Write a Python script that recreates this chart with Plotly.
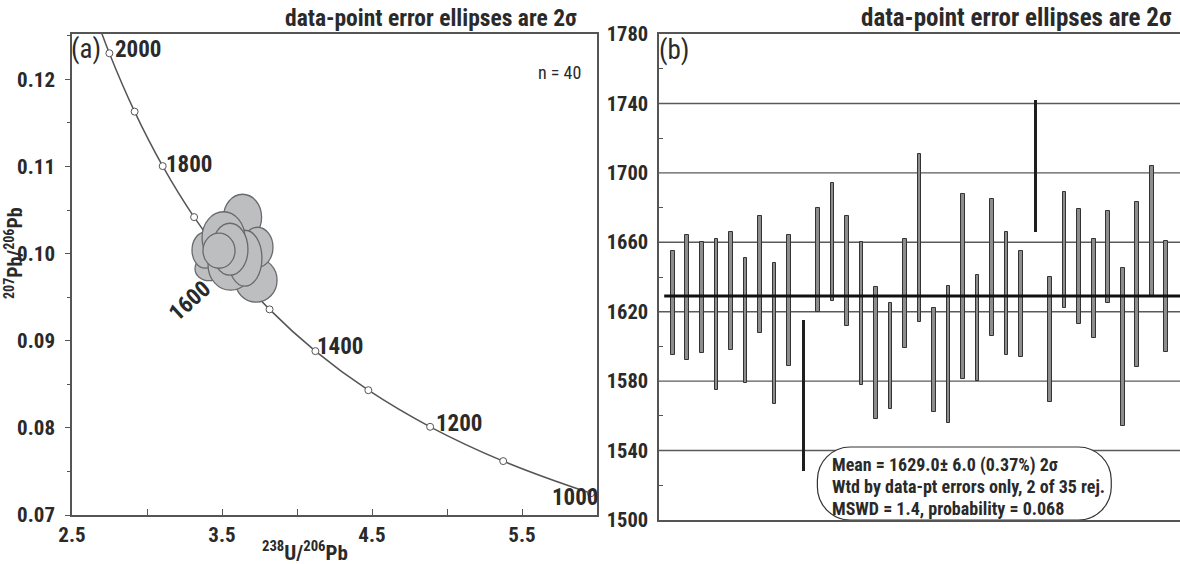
import plotly.graph_objects as go

# ---------------- data ----------------
# Concordia (Tera-Wasserburg) reference points: age (Ma), 238U/206Pb, 207Pb/206Pb
conc_age = [2100, 2000, 1900, 1800, 1700, 1600, 1500, 1400, 1300, 1200, 1100, 1000, 950]
conc_u = [2.5968, 2.7492, 2.9174, 3.1046, 3.3140, 3.5497, 3.8170, 4.1227, 4.4756, 4.8875, 5.3746, 5.9594, 6.2980]
conc_pb = [0.13015, 0.12299, 0.11629, 0.11004, 0.10419, 0.098716, 0.093597, 0.088807,
           0.084323, 0.080122, 0.076187, 0.07250, 0.070743]
label_ages = [2000, 1800, 1600, 1400, 1200, 1000]

# Data-point error ellipses: centre and semi-axes
ell_x = [3.637, 3.727, 3.737, 3.413, 3.387, 3.557, 3.653, 3.510, 3.553, 3.480]
ell_y = [0.10417, 0.09695, 0.10073, 0.09827, 0.10039, 0.09867, 0.09947, 0.10182, 0.10050, 0.10033]
ell_rx = [0.127, 0.140, 0.103, 0.093, 0.087, 0.150, 0.113, 0.143, 0.120, 0.107]
ell_ry = [0.00264, 0.00252, 0.00229, 0.00138, 0.00206, 0.00287, 0.00321, 0.00298, 0.00298, 0.00201]

# Weighted-mean plot: 2-sigma age ranges (Ma)
spot = list(range(1, 36))
age_top = [1655, 1664, 1660, 1662, 1666, 1651, 1675, 1648, 1664, 1615, 1680, 1694, 1675, 1660, 1634,
           1625, 1662, 1711, 1622, 1635, 1688, 1641, 1685, 1666, 1655, 1742, 1640, 1689, 1679, 1662,
           1678, 1645, 1683, 1704, 1661]
age_bot = [1595, 1592, 1596, 1575, 1598, 1579, 1608, 1567, 1589, 1528, 1620, 1626, 1612, 1578, 1558,
           1564, 1599, 1614, 1562, 1556, 1581, 1580, 1606, 1595, 1594, 1666, 1568, 1622, 1613, 1605,
           1625, 1554, 1588, 1629, 1597]
rejected = [10, 26]
mean_age = 1629.0
left_yticks = [0.07, 0.08, 0.09, 0.10, 0.11, 0.12]
left_yticktext = ["0.07", "0.08", "0.09", "0.10", "0.11", "0.12"]
left_xticks = [2.5, 3.5, 4.5, 5.5]
right_yticks = [1500, 1540, 1580, 1620, 1660, 1700, 1740, 1780]
stats_lines = ["Mean = 1629.0\u00b1 6.0 (0.37%) 2\u03c3",
               "Wtd by data-pt errors only, 2 of 35 rej.",
               "MSWD = 1.4, probability = 0.068"]

# ---------------- style ----------------
W, H = 1180, 564
FONT = "Liberation Sans Narrow, Arial Narrow, Roboto Condensed, DejaVu Sans Condensed, sans-serif"
INK = "#2a2a2a"
AX = "#555555"


def P(px, py):
    return px / W, 1 - py / H


fig = go.Figure()

# concordia curve
fig.add_trace(go.Scatter(
    x=conc_u, y=conc_pb, mode="lines+markers", line=dict(color="#555555", width=1.5, shape="spline"),
    marker=dict(size=7, color="white", line=dict(color="#555555", width=1)),
    xaxis="x", yaxis="y", showlegend=False, hoverinfo="skip"))

# error bars (right)
keep = [i for i in range(len(spot)) if spot[i] not in rejected]
rej = [i for i in range(len(spot)) if spot[i] in rejected]
fig.add_trace(go.Bar(
    x=[spot[i] for i in keep], y=[age_top[i] - age_bot[i] for i in keep], base=[age_bot[i] for i in keep],
    width=0.27, marker=dict(color="#8d8d8d", line=dict(color="#333333", width=1)),
    xaxis="x2", yaxis="y2", showlegend=False, hoverinfo="skip"))
fig.add_trace(go.Bar(
    x=[spot[i] for i in rej], y=[age_top[i] - age_bot[i] for i in rej], base=[age_bot[i] for i in rej],
    width=0.2, marker=dict(color="#1e1e1e", line=dict(width=0)),
    xaxis="x2", yaxis="y2", showlegend=False, hoverinfo="skip"))

shapes = []
# ellipses
for cx, cy, rx, ry in zip(ell_x, ell_y, ell_rx, ell_ry):
    shapes.append(dict(type="circle", xref="x", yref="y", x0=cx - rx, x1=cx + rx, y0=cy - ry, y1=cy + ry,
                       fillcolor="#bdbec0", line=dict(color="#6a6a6e", width=1.3), layer="above"))

# horizontal grid lines (right)
for v in right_yticks[1:-1]:
    shapes.append(dict(type="line", xref="x2 domain", yref="y2", x0=0, x1=1, y0=v, y1=v,
                       line=dict(color="#5a5a5a", width=1.4), layer="below"))
# mean line
shapes.append(dict(type="line", xref="x2 domain", yref="y2", x0=0.01, x1=1, y0=mean_age, y1=mean_age,
                   line=dict(color="#111111", width=3), layer="above"))


# rounded stats box (pixel geometry converted to x2/y2 data)
def X2(px):
    return 1 + (px - 673) / ((1168 - 673) / 34)


def Y2(py):
    return 1500 + (520 - py) / (486 / 280)


L, R, T, B, r = 818, 1113, 447, 520, 33
k = 0.55
path = (f"M {X2(L + r)},{Y2(T)} L {X2(R - r)},{Y2(T)} "
        f"C {X2(R - r + k * r)},{Y2(T)} {X2(R)},{Y2(T + r - k * r)} {X2(R)},{Y2(T + r)} "
        f"L {X2(R)},{Y2(B - r)} "
        f"C {X2(R)},{Y2(B - r + k * r)} {X2(R - r + k * r)},{Y2(B)} {X2(R - r)},{Y2(B)} "
        f"L {X2(L + r)},{Y2(B)} "
        f"C {X2(L + r - k * r)},{Y2(B)} {X2(L)},{Y2(B - r + k * r)} {X2(L)},{Y2(B - r)} "
        f"L {X2(L)},{Y2(T + r)} "
        f"C {X2(L)},{Y2(T + r - k * r)} {X2(L + r - k * r)},{Y2(T)} {X2(L + r)},{Y2(T)} Z")
shapes.append(dict(type="path", xref="x2", yref="y2", path=path, fillcolor="white",
                   line=dict(color="#333333", width=1.2), layer="above"))

ann = []


def A(px, py, text, size=17, bold=True, xanchor="center", angle=0, color=INK):
    x, y = P(px, py)
    ann.append(dict(x=x, y=y, xref="paper", yref="paper", text=text, showarrow=False,
                    xanchor=xanchor, yanchor="middle", textangle=angle, borderpad=0,
                    font=dict(family=FONT, size=size, color=color, weight="bold" if bold else "normal")))


A(578, 18, "data-point error ellipses are 2\u03c3", 23.5, True, "right")
A(1173, 18, "data-point error ellipses are 2\u03c3", 25, True, "right")
A(70, 49, "(a)", 27, False, "left")
A(658, 50, "(b)", 27, False, "left")
A(582, 73, "n = 40", 18, False, "right")

# age labels
age_label_pos = {2000: (114, 50, 0, "left"), 1800: (165, 164, 0, "left"), 1600: (190, 300, -42, "center"),
                 1400: (316, 346, 0, "left"), 1200: (435, 423, 0, "left"), 1000: (551, 497, 0, "left")}
for a in label_ages:
    px, py, ang, xa = age_label_pos[a]
    A(px, py, str(a), 23, True, xa, ang)

A(14, 253, "<sup>207</sup>Pb/<sup>206</sup>Pb", 20, True, "center", -90)
A(305, 551, "<sup>238</sup>U/<sup>206</sup>Pb", 21, True, "center")

for i, line in enumerate(stats_lines):
    A(831, 465 + i * 21.5, line, 18, True, "left")

tickfont = dict(family=FONT, size=21, color=INK, weight="bold")
tickfont2 = dict(family=FONT, size=20.5, color=INK, weight="bold")

fig.update_layout(
    width=W, height=H, margin=dict(l=0, r=0, t=0, b=0, autoexpand=False),
    paper_bgcolor="white", plot_bgcolor="white", bargap=0,
    xaxis=dict(domain=[72 / W, 597 / W], range=[2.5, 6.0], showgrid=False, zeroline=False,
               tickvals=left_xticks, ticktext=[str(v) for v in left_xticks], ticks="inside", ticklen=6,
               tickcolor=AX, tickfont=tickfont, showline=True, linecolor=AX, linewidth=1.5, mirror=True,
               minor=dict(dtick=0.5, tick0=2.5, ticks="inside", ticklen=6, tickcolor=AX, showgrid=False),
               anchor="y", automargin=False),
    yaxis=dict(domain=[1 - 515 / H, 1 - 34 / H], range=[0.07, 0.1252], showgrid=False, zeroline=False,
               tickvals=left_yticks, ticktext=left_yticktext, ticks="outside", ticklen=5, tickcolor=AX,
               tickfont=tickfont, showline=True, linecolor=AX, linewidth=1.5, mirror=True,
               ticklabelstandoff=6,
               minor=dict(dtick=0.005, tick0=0.07, ticks="outside", ticklen=3, tickcolor=AX, showgrid=False),
               anchor="x", automargin=False),
    xaxis2=dict(domain=[659 / W, 1.0], range=[X2(659), X2(1182)], showgrid=False, zeroline=False,
                showticklabels=False, ticks="", showline=True, linecolor=AX, linewidth=1.5, mirror=True,
                anchor="y2", automargin=False),
    yaxis2=dict(domain=[1 - 520 / H, 1 - 34 / H], range=[1500, 1780], showgrid=False, zeroline=False,
                tickvals=right_yticks, ticktext=[str(v) for v in right_yticks], ticks="", tickfont=tickfont2,
                showline=True, linecolor=AX, linewidth=1.5, mirror=True, ticklabelstandoff=5,
                minor=dict(dtick=40, tick0=1520, ticks="inside", ticklen=4, tickcolor=AX, showgrid=False),
                anchor="x2", automargin=False),
    shapes=shapes, annotations=ann,
)

fig.write_html("out.html", post_script="document.body.style.margin='0';document.body.style.overflow='hidden';")
